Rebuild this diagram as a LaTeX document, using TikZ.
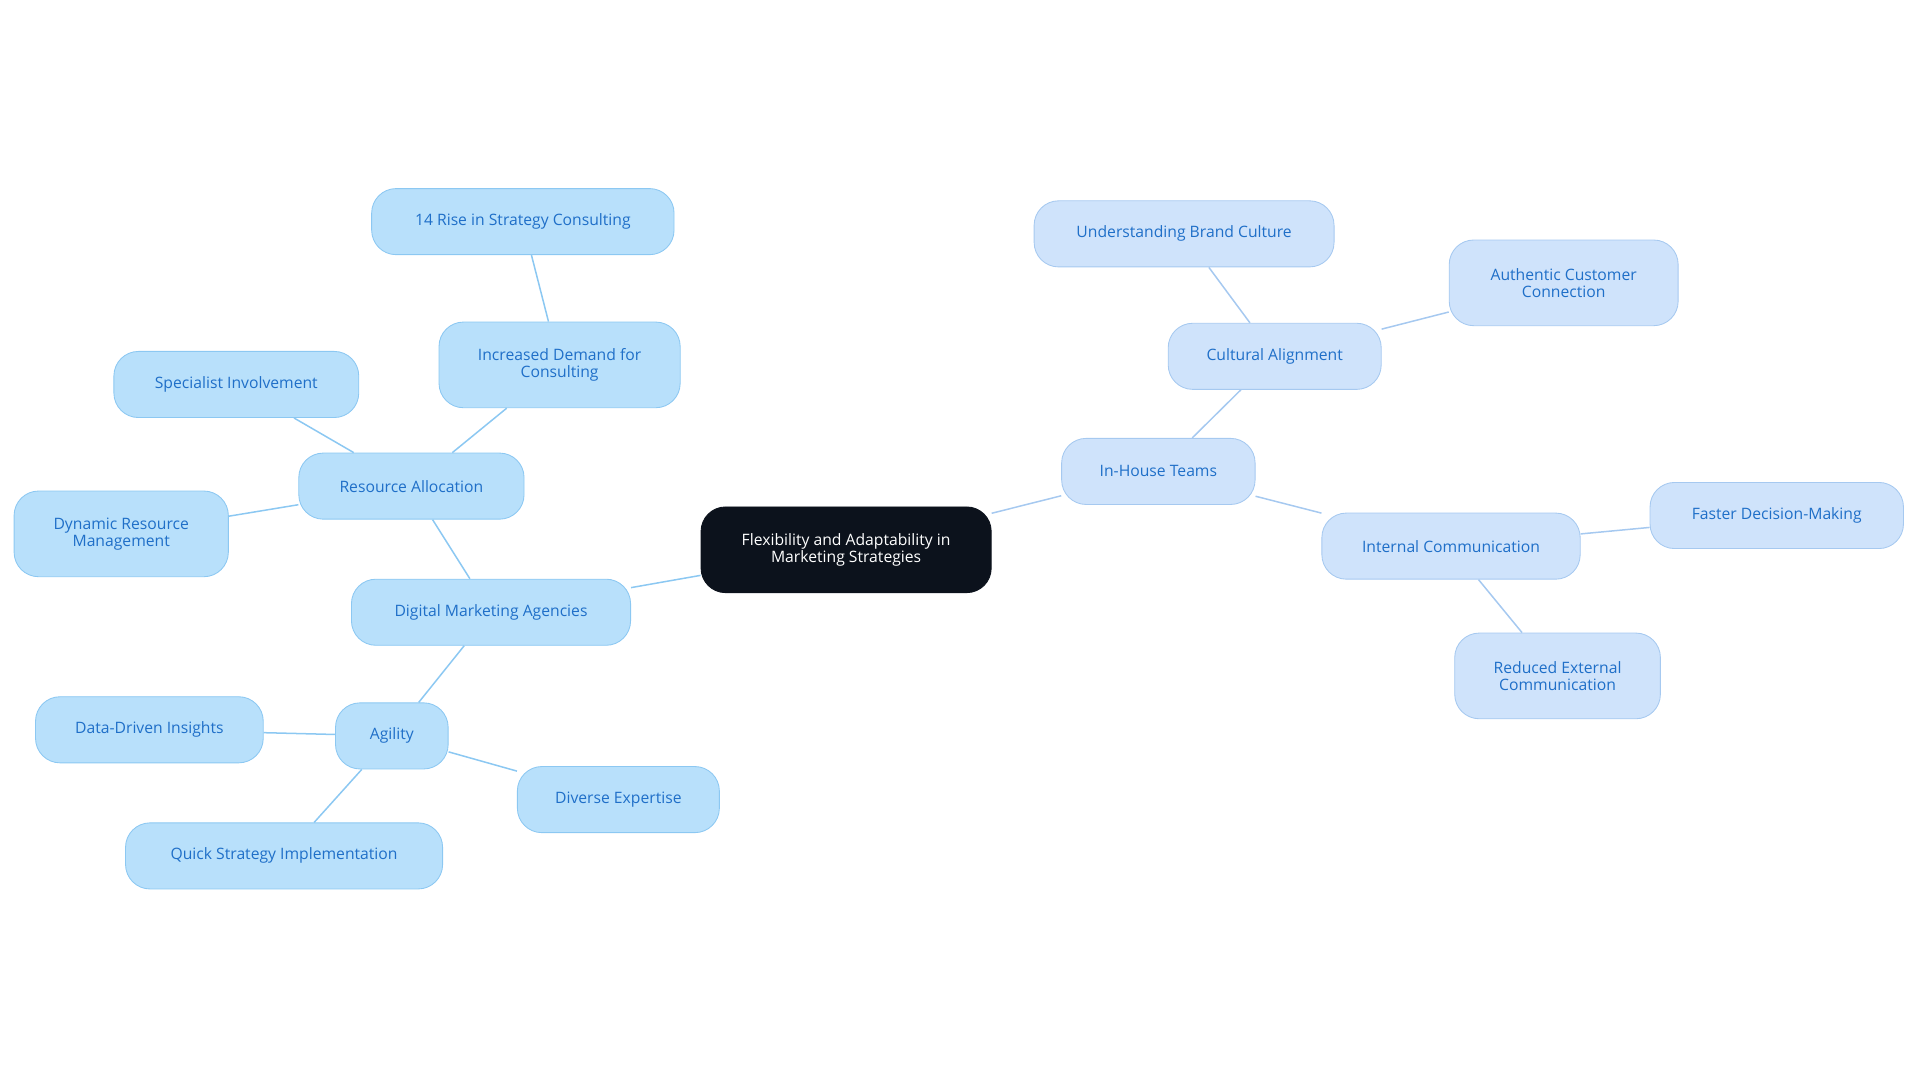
\documentclass[tikz,border=0pt]{standalone}
\usepackage{fontspec}
\setmainfont{Open Sans}
\usetikzlibrary{positioning}
\definecolor{leftfill}{HTML}{B8E0FB}
\definecolor{leftline}{HTML}{8CC8F2}
\definecolor{rightfill}{HTML}{CFE3FB}
\definecolor{rightline}{HTML}{A6C9F0}
\definecolor{nodetext}{HTML}{1F6FC8}
\definecolor{rootfill}{HTML}{0C121C}
\tikzset{
  leaf/.style={draw=leftline, fill=leftfill, rounded corners=0.4cm, text=nodetext, align=center, font=\fontsize{7.3}{8}\selectfont, inner sep=0pt},
  rleaf/.style={leaf, draw=rightline, fill=rightfill},
  rootbox/.style={draw=rootfill, fill=rootfill, rounded corners=0.4cm, text=white, align=center, font=\fontsize{7.3}{8}\selectfont, inner sep=0pt},
  link/.style={draw=leftline, line width=0.7pt},
  rlink/.style={draw=rightline, line width=0.7pt}
}
\begin{document}
\begin{tikzpicture}[x=0.02cm, y=-0.02cm]
	\useasboundingbox (0,0) rectangle (1568,884);
	\node [rootbox, minimum width=4.74cm, minimum height=1.4cm] (root) at (691,449) {Flexibility and Adaptability in\\Marketing Strategies};

	% left branch
	\node [leaf, minimum width=4.56cm, minimum height=1.08cm] (dma) at (401,500) {Digital Marketing Agencies};
	\node [leaf, minimum width=3.68cm, minimum height=1.08cm] (res) at (336,397) {Resource Allocation};
	\node [leaf, minimum width=3.94cm, minimum height=1.4cm] (demand) at (457,298) {Increased Demand for\\Consulting};
	\node [leaf, minimum width=4.94cm, minimum height=1.08cm] (rise) at (427,181) {14 Rise in Strategy Consulting};
	\node [leaf, minimum width=4.0cm, minimum height=1.08cm] (spec) at (193,314) {Specialist Involvement};
	\node [leaf, minimum width=3.5cm, minimum height=1.4cm] (dyn) at (99,436) {Dynamic Resource\\Management};
	\node [leaf, minimum width=1.84cm, minimum height=1.08cm] (agil) at (320,601) {Agility};
	\node [leaf, minimum width=3.72cm, minimum height=1.08cm] (data) at (122,596) {Data-Driven Insights};
	\node [leaf, minimum width=3.3cm, minimum height=1.08cm] (div) at (505,653) {Diverse Expertise};
	\node [leaf, minimum width=5.18cm, minimum height=1.08cm] (quick) at (232,699) {Quick Strategy Implementation};

	% right branch
	\node [rleaf, minimum width=3.16cm, minimum height=1.08cm] (inh) at (946,385) {In-House Teams};
	\node [rleaf, minimum width=3.48cm, minimum height=1.08cm] (cult) at (1041,291) {Cultural Alignment};
	\node [rleaf, minimum width=4.9cm, minimum height=1.08cm] (brand) at (967,191) {Understanding Brand Culture};
	\node [rleaf, minimum width=3.74cm, minimum height=1.4cm] (auth) at (1277,231) {Authentic Customer\\Connection};
	\node [rleaf, minimum width=4.22cm, minimum height=1.08cm] (intc) at (1185,446) {Internal Communication};
	\node [rleaf, minimum width=4.14cm, minimum height=1.08cm] (fast) at (1451,421) {Faster Decision-Making};
	\node [rleaf, minimum width=3.36cm, minimum height=1.4cm] (redu) at (1272,552) {Reduced External\\Communication};

	\begin{scope}[on background layer/.try]
	\end{scope}
	\path [link] (root) -- (dma);
	\path [link] (dma) -- (res);
	\path [link] (res) -- (demand);
	\path [link] (demand) -- (rise);
	\path [link] (res) -- (spec);
	\path [link] (res) -- (dyn);
	\path [link] (dma) -- (agil);
	\path [link] (agil) -- (data);
	\path [link] (agil) -- (div);
	\path [link] (agil) -- (quick);
	\path [rlink] (root) -- (inh);
	\path [rlink] (inh) -- (cult);
	\path [rlink] (cult) -- (brand);
	\path [rlink] (cult) -- (auth);
	\path [rlink] (inh) -- (intc);
	\path [rlink] (intc) -- (fast);
	\path [rlink] (intc) -- (redu);
\end{tikzpicture}
\end{document}
